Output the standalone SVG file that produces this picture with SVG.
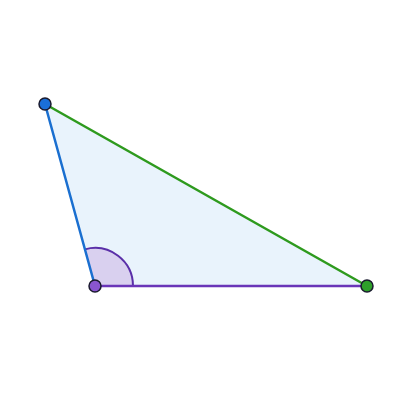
<svg xmlns="http://www.w3.org/2000/svg" width="400" height="400" viewBox="0 0 400 400">
<style>
.pt{stroke:#1a1a2e;stroke-width:1.5}
.edge{fill:none;stroke-width:2.5;stroke-linecap:round}
</style>
<rect width="400" height="400" fill="#ffffff"/>
<polygon points="45,104 95,286 367,286" fill="#e9f3fc" stroke="none"/>
<path d="M95,286 L84.93,249.36 A38,38 0 0 1 133,286 Z" fill="#d9d0ef" stroke="none"/>
<path d="M84.93,249.36 A38,38 0 0 1 133,286" fill="none" stroke="#5a2fa8" stroke-width="2"/>
<g id="connectors">
<line class="edge" x1="45" y1="104" x2="367" y2="286" stroke="#2e9a1e"/>
<line class="edge" x1="95" y1="286" x2="367" y2="286" stroke="#6a35b8"/>
<line class="edge" x1="45" y1="104" x2="95" y2="286" stroke="#1a6fd0"/>
</g>
<g id="A"><circle class="pt" cx="45" cy="104" r="6" fill="#1a6fd8"/></g>
<g id="B"><circle class="pt" cx="95" cy="286" r="6" fill="#8a55d0"/></g>
<g id="C"><circle class="pt" cx="367" cy="286" r="6" fill="#2ea02a"/></g>
</svg>
